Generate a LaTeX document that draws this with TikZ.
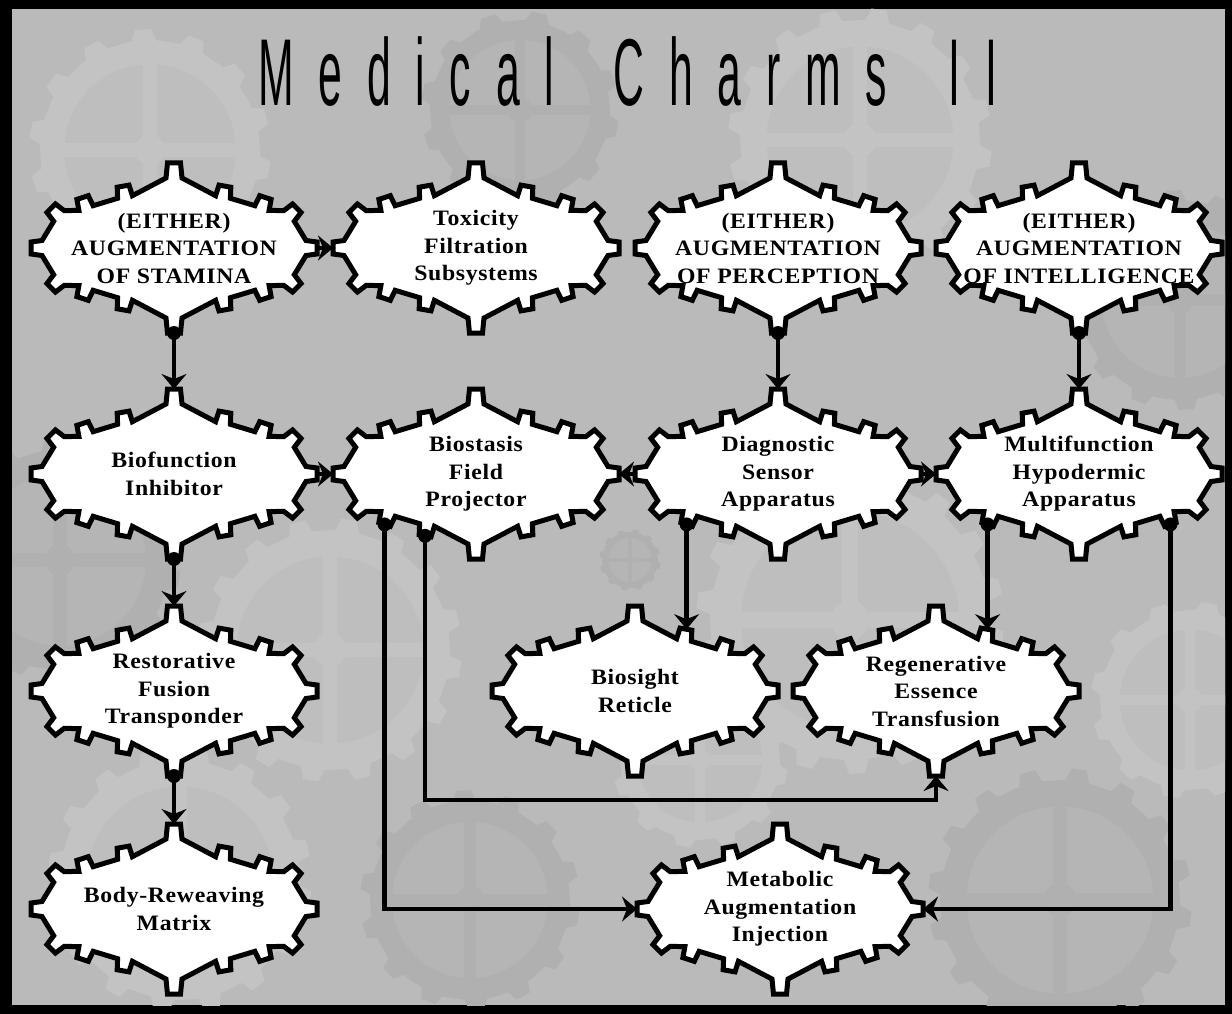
\documentclass[tikz,border=0pt]{standalone}
\usepackage{fontspec}
\usetikzlibrary{arrows.meta}

\newfontfamily\cartfont{Liberation Serif}[FakeStretch=1.08,LetterSpace=3]
\newfontfamily\titlefont{Liberation Sans}[LetterSpace=58]

\definecolor{bgbase}{RGB}{186,186,186}
\definecolor{gearlight}{RGB}{195,195,195}
\definecolor{geardark}{RGB}{176,176,176}
\definecolor{innerlight}{RGB}{190,190,190}
\definecolor{innerdark}{RGB}{181,181,181}

% teeth of a cartouche: base x / base y / outward angle / height / base width / tip width
\def\toothlist{132/0/0/11/15/12, 115/32/45/11/15/12, 88/40/72/11/15/12, 49/51/80/11/15/12,
  0/70/90/15/16/13, -49/51/100/11/15/12, -88/40/108/11/15/12, -115/32/135/11/15/12,
  -132/0/180/11/15/12, -115/-32/225/11/15/12, -88/-40/252/11/15/12, -49/-51/260/11/15/12,
  0/-70/270/15/16/13, 49/-51/280/11/15/12, 88/-40/288/11/15/12, 115/-32/315/11/15/12}

\tikzset{
  cart/.style={draw=black, fill=white, line width=5pt, line join=miter},
  carttext/.style={align=center, inner sep=0pt,
    font=\cartfont\bfseries\fontsize{22pt}{27.5pt}\selectfont},
  link/.style={line width=4.5pt, draw=black,
    -{Stealth[length=15pt,width=25pt,inset=5pt]}},
  dot/.style={fill=black},
}

% gear-edged cartouche: name, x, y, text
\newcommand\cartouche[4]{%
  \begin{scope}[shift={(#2,#3)}]
    \draw[cart] ([shift={(45:7.5)}]115,-32)
      \foreach \bx/\by/\ph/\h/\wb/\wt in \toothlist {
        -- ([shift={(\ph-90:\wb/2)}]\bx,\by)
        -- ([shift={(\ph:\h)},shift={(\ph-90:\wt/2)}]\bx,\by)
        -- ([shift={(\ph:\h)},shift={(\ph+90:\wt/2)}]\bx,\by)
        -- ([shift={(\ph+90:\wb/2)}]\bx,\by)
      } -- cycle;
    \foreach \bx/\by/\ph/\h/\wb/\wt [count=\k from 0] in \toothlist
      \coordinate (#1-\k) at ([shift={(\ph:\h)}]\bx,\by);
  \end{scope}
  \node[carttext] (#1) at (#2,#3) {#4};
}

% faint background gear: x, y, radius, teeth, rim colour, inner colour
\newcommand\bggear[6]{%
  \begin{scope}[shift={(#1,#2)}]
    \pgfmathsetmacro\gs{360/#4}
    \fill[#5] (0:#3) \foreach \i in {1,...,#4} {
      -- ({(\i-1)*\gs+0.12*\gs}:#3)
      -- ({(\i-1)*\gs+0.22*\gs}:{1.1*#3})
      -- ({(\i-1)*\gs+0.52*\gs}:{1.1*#3})
      -- ({(\i-1)*\gs+0.62*\gs}:#3)
      -- ({\i*\gs}:#3)} -- cycle;
    \fill[#6] (0,0) circle[radius=0.78*#3];
    \foreach \a in {0,90}
      \fill[#5, rotate=\a] ({-0.78*#3},{-0.06*#3}) rectangle ({0.78*#3},{0.06*#3});
    \fill[#5] (0,0) circle[radius=0.14*#3];
  \end{scope}}

\begin{document}
\begin{tikzpicture}[x=1pt, y=-1pt]
  \useasboundingbox (0,0) rectangle (1232,1014);
  % frame and backdrop
  \fill[black] (0,0) rectangle (1232,1014);
  \fill[bgbase] (12,9) rectangle (1225,1005);
  \begin{scope}
    \clip (12,9) rectangle (1225,1005);
    \bggear{150}{150}{110}{14}{gearlight}{innerlight}
    \bggear{520}{110}{90}{12}{geardark}{innerdark}
    \bggear{860}{140}{120}{16}{gearlight}{innerlight}
    \bggear{1180}{300}{100}{14}{geardark}{innerdark}
    \bggear{60}{560}{110}{14}{geardark}{innerdark}
    \bggear{330}{650}{120}{16}{gearlight}{innerlight}
    \bggear{850}{620}{140}{18}{gearlight}{innerlight}
    \bggear{630}{560}{28}{12}{geardark}{innerdark}
    \bggear{1190}{700}{90}{12}{gearlight}{innerlight}
    \bggear{180}{880}{120}{16}{gearlight}{innerlight}
    \bggear{470}{900}{100}{14}{geardark}{innerdark}
    \bggear{1060}{900}{120}{16}{geardark}{innerdark}
    \bggear{700}{760}{80}{12}{gearlight}{innerlight}
  \end{scope}

  % title
  \node[anchor=base west, inner sep=0pt] (title) at (258,106)
    {\scalebox{0.45}[1]{\titlefont\fontsize{95pt}{95pt}\selectfont
      Medical \hspace{50pt}Charms \hspace{55pt}II}};

  % charms
  \cartouche{sta}{174}{248}{(EITHER)\\AUGMENTATION\\OF STAMINA}
  \cartouche{tox}{476}{248}{Toxicity\\Filtration\\Subsystems}
  \cartouche{per}{778}{248}{(EITHER)\\AUGMENTATION\\OF PERCEPTION}
  \cartouche{int}{1079}{248}{(EITHER)\\AUGMENTATION\\OF INTELLIGENCE}
  \cartouche{bio}{174}{474}{Biofunction\\Inhibitor}
  \cartouche{bst}{476}{474}{Biostasis\\Field\\Projector}
  \cartouche{dia}{778}{474}{Diagnostic\\Sensor\\Apparatus}
  \cartouche{mul}{1079}{474}{Multifunction\\Hypodermic\\Apparatus}
  \cartouche{res}{174}{691}{Restorative\\Fusion\\Transponder}
  \cartouche{bsi}{635}{691}{Biosight\\Reticle}
  \cartouche{reg}{936}{691}{Regenerative\\Essence\\Transfusion}
  \cartouche{bod}{174}{909}{Body-Reweaving\\Matrix}
  \cartouche{met}{780}{909}{Metabolic\\Augmentation\\Injection}

  % prerequisites
  \draw[link] (sta-0) -- (tox-8);
  \draw[link] (bio-0) -- (bst-8);
  \draw[link] (dia-8) -- (bst-0);
  \draw[link] (dia-0) -- (mul-8);
  \draw[link] (sta-4) -- (bio-12);
  \draw[link] (per-4) -- (dia-12);
  \draw[link] (int-4) -- (mul-12);
  \draw[link] (bio-4) -- (res-12);
  \draw[link] (res-4) -- (bod-12);
  \draw[link] (dia-6) -- (dia-6 |- bsi-13);
  \draw[link] (mul-6) -- (mul-6 |- reg-13);
  \draw[link] (bst-6) |- (met-8);
  \draw[link] (mul-2) |- (met-0);
  \draw[link] (bst-5) |- ([yshift=-24pt]reg-4) -- (reg-4);

  \foreach \p in {sta-4, per-4, int-4, bio-4, res-4, dia-6, mul-6, mul-2, bst-6, bst-5}
    \fill[dot] (\p) circle[radius=7];
\end{tikzpicture}
\end{document}
